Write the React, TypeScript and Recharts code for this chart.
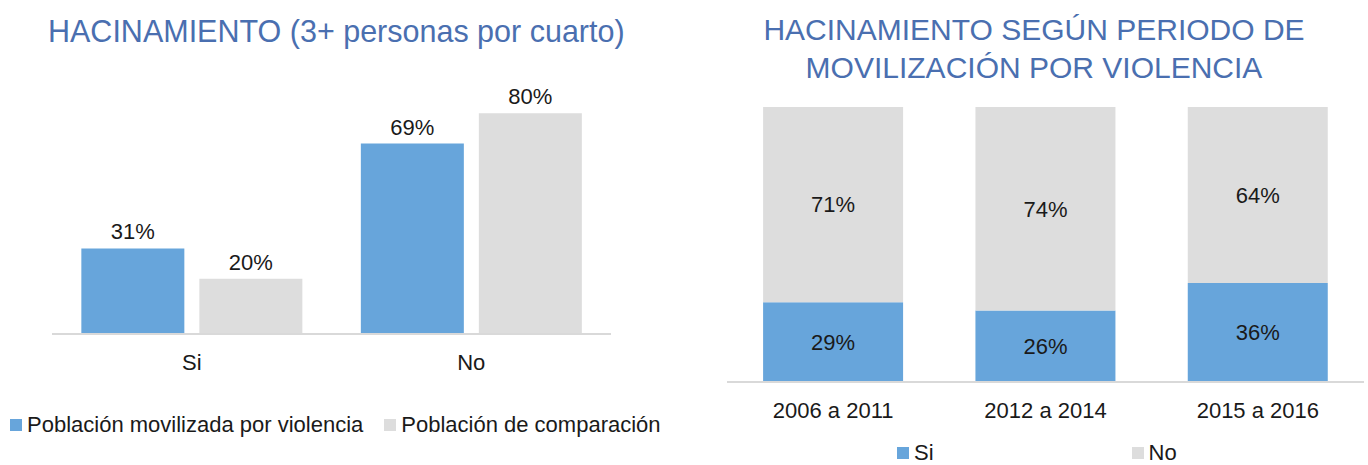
import { BarChart, Bar, XAxis, YAxis, LabelList, Legend } from "recharts"

const leftCategories = ["Si", "No"]
const leftMovilizada = [31, 69]
const leftComparacion = [20, 80]

const rightCategories = ["2006 a 2011", "2012 a 2014", "2015 a 2016"]
const rightSi = [29, 26, 36]
const rightNo = [71, 74, 64]

const BLUE = "#67A5DB"
const GRAY = "#DDDDDD"
const TITLE = "#4A6FB0"
const FONT = "'Liberation Sans', Arial, Helvetica, sans-serif"

const leftData = leftCategories.map((c, i) => ({
  name: c,
  movilizada: leftMovilizada[i],
  comparacion: leftComparacion[i],
}))

const rightData = rightCategories.map((c, i) => ({
  name: c,
  si: rightSi[i],
  no: rightNo[i],
}))

const pct = (v: any) => `${v}%`

function LegendRow({ items, gap, fontSize }: { items: { label: string; color: string }[]; gap: number; fontSize: number }) {
  return (
    <div style={{ display: "flex", alignItems: "center", gap, fontFamily: FONT, fontSize, lineHeight: "22px", color: "#1a1a1a" }}>
      {items.map((it) => (
        <div key={it.label} style={{ display: "flex", alignItems: "center" }}>
          <span style={{ display: "inline-block", width: 12, height: 12, background: it.color, marginRight: 5 }} />
          <span>{it.label}</span>
        </div>
      ))}
    </div>
  )
}

export default function App() {
  return (
    <div style={{ position: "relative", width: 1368, height: 465, background: "#fff", fontFamily: FONT }}>
      <style>{"body{margin:0}"}</style>
      <div style={{ position: "absolute", left: 48, top: 14, fontSize: 30.5, color: TITLE, whiteSpace: "nowrap" }}>
        HACINAMIENTO (3+ personas por cuarto)
      </div>
      <div
        style={{
          position: "absolute",
          left: 700,
          width: 668,
          top: 11,
          fontSize: 30,
          lineHeight: "38px",
          color: TITLE,
          textAlign: "center",
        }}
      >
        <div>HACINAMIENTO SEGÚN PERIODO DE</div>
        <div>MOVILIZACIÓN POR VIOLENCIA</div>
      </div>

      <div style={{ position: "absolute", left: 0, top: 0 }}>
        <BarChart
          width={700}
          height={465}
          data={leftData}
          margin={{ top: 58, right: 89, left: 52, bottom: 101 }}
          barCategoryGap="10.5%"
          barGap={15}
        >
          <XAxis
            dataKey="name"
            axisLine={{ stroke: "#D9D9D9", strokeWidth: 2 }}
            tickLine={false}
            height={30}
            tick={{ fill: "#1a1a1a", fontSize: 22, fontFamily: FONT }}
            tickMargin={14}
          />
          <YAxis hide domain={[0, 100]} />
          <Legend
            layout="horizontal"
            verticalAlign="middle"
            align="center"
            wrapperStyle={{ top: 414, left: 10, width: 690 }}
            content={() => (
              <LegendRow
                gap={21}
                fontSize={22}
                items={[
                  { label: "Población movilizada por violencia", color: BLUE },
                  { label: "Población de comparación", color: GRAY },
                ]}
              />
            )}
          />
          <Bar dataKey="movilizada" fill={BLUE} isAnimationActive={false}>
            <LabelList dataKey="movilizada" position="top" offset={9} formatter={pct} fill="#1a1a1a" fontSize={22} fontFamily={FONT} />
          </Bar>
          <Bar dataKey="comparacion" fill={GRAY} isAnimationActive={false}>
            <LabelList dataKey="comparacion" position="top" offset={9} formatter={pct} fill="#1a1a1a" fontSize={22} fontFamily={FONT} />
          </Bar>
        </BarChart>
      </div>

      <div style={{ position: "absolute", left: 700, top: 0 }}>
        <BarChart
          width={668}
          height={465}
          data={rightData}
          margin={{ top: 107, right: 4, left: 27, bottom: 53 }}
          barCategoryGap="17%"
        >
          <XAxis
            dataKey="name"
            axisLine={{ stroke: "#D9D9D9", strokeWidth: 2 }}
            tickLine={false}
            height={30}
            tick={{ fill: "#1a1a1a", fontSize: 22, fontFamily: FONT }}
            tickMargin={14}
          />
          <YAxis hide domain={[0, 100]} />
          <Legend
            layout="horizontal"
            verticalAlign="middle"
            align="center"
            wrapperStyle={{ top: 442, left: 197, width: 400 }}
            content={() => (
              <LegendRow
                gap={198}
                fontSize={22}
                items={[
                  { label: "Si", color: BLUE },
                  { label: "No", color: GRAY },
                ]}
              />
            )}
          />
          <Bar dataKey="si" stackId="a" fill={BLUE} isAnimationActive={false}>
            <LabelList dataKey="si" position="center" formatter={pct} fill="#1a1a1a" fontSize={22} fontFamily={FONT} />
          </Bar>
          <Bar dataKey="no" stackId="a" fill={GRAY} isAnimationActive={false}>
            <LabelList dataKey="no" position="center" formatter={pct} fill="#1a1a1a" fontSize={22} fontFamily={FONT} />
          </Bar>
        </BarChart>
      </div>
    </div>
  )
}
